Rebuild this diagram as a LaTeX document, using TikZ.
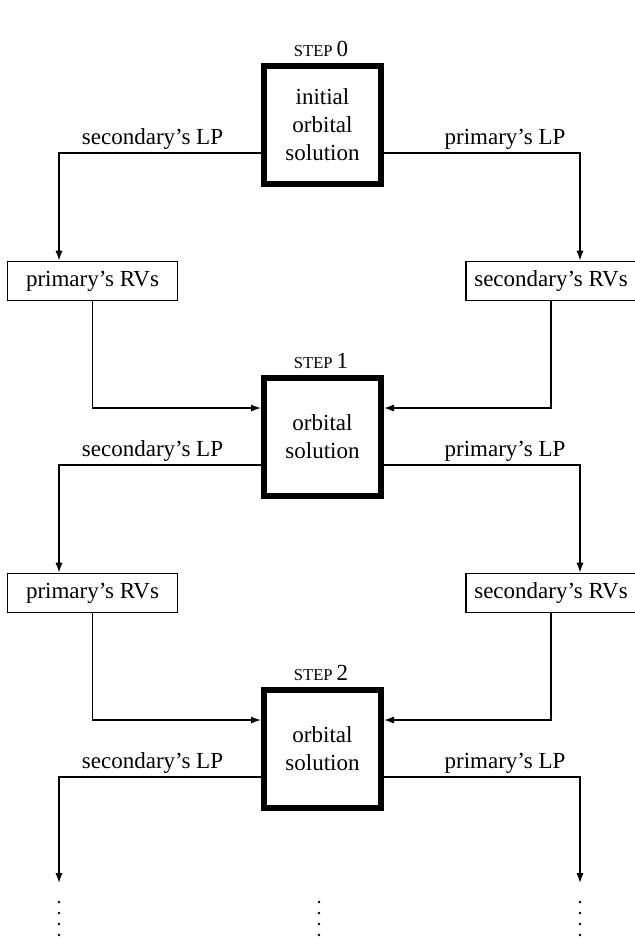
\documentclass[tikz,border=0pt]{standalone}
\usepackage{fontspec}
\setmainfont{Liberation Serif}
\usetikzlibrary{arrows.meta}
\newcommand\stepname[1]{{\fontsize{8.3}{10}\selectfont STEP}\,#1}
\begin{document}
\begin{tikzpicture}[x=0.5pt,y=-0.5pt,
 font=\fontsize{11.5}{14}\selectfont,
 stepbox/.style={draw, line width=3pt, minimum width=58.5pt, minimum height=59pt, inner sep=0pt, align=center},
 rvbox/.style={draw, line width=0.8pt, minimum width=85pt, minimum height=19.5pt, inner sep=0pt},
 conn/.style={line width=0.7pt},
 arr/.style={conn, -{Latex[length=5pt,width=3.6pt]}},
 lab/.style={anchor=base, inner sep=0pt},
 dotmark/.style={fill=black}]
\useasboundingbox (0,0) rectangle (634,938);

% step boxes
\node[stepbox] (s0) at (322.5,125) {initial\\orbital\\solution};
\node[stepbox] (s1) at (322.5,437) {orbital\\solution};
\node[stepbox] (s2) at (322.5,749) {orbital\\solution};
\node[lab] (t0) at (321,56) {\stepname{0}};
\node[lab] (t1) at (321,368) {\stepname{1}};
\node[lab] (t2) at (321,680) {\stepname{2}};

% RV boxes
\node[rvbox] (p0) at (92.5,281) {primary's RVs};
\node[rvbox] (q0) at (551,281) {secondary's RVs};
\node[rvbox] (p1) at (92.5,593) {primary's RVs};
\node[rvbox] (q1) at (551,593) {secondary's RVs};

% LP labels
\node[lab] (ls0) at (152.5,144) {secondary's LP};
\node[lab] (lp0) at (505,144) {primary's LP};
\node[lab] (ls1) at (152.5,456) {secondary's LP};
\node[lab] (lp1) at (505,456) {primary's LP};
\node[lab] (ls2) at (152.5,768) {secondary's LP};
\node[lab] (lp2) at (505,768) {primary's LP};

% bend coordinates
\coordinate (lb0) at (59,153);  \coordinate (rb0) at (580,153);
\coordinate (lb1) at (59,465);  \coordinate (rb1) at (580,465);
\coordinate (lb2) at (59,777);  \coordinate (rb2) at (580,777);
\coordinate (li1) at (92.5,408); \coordinate (ri1) at (551,408);
\coordinate (li2) at (92.5,720); \coordinate (ri2) at (551,720);
\coordinate (e0) at (59,883);   \coordinate (e1) at (580,883);

% outputs of step boxes
\draw[arr] (s0.west |- lb0) -- (lb0) -- (p0.north -| lb0);
\draw[arr] (s0.east |- rb0) -- (rb0) -- (q0.north -| rb0);
\draw[arr] (s1.west |- lb1) -- (lb1) -- (p1.north -| lb1);
\draw[arr] (s1.east |- rb1) -- (rb1) -- (q1.north -| rb1);
\draw[arr] (s2.west |- lb2) -- (lb2) -- (e0);
\draw[arr] (s2.east |- rb2) -- (rb2) -- (e1);

% inputs to step boxes
\draw[arr] (p0.south) -- (li1) -- (s1.west |- li1);
\draw[arr] (q0.south) -- (ri1) -- (s1.east |- ri1);
\draw[arr] (p1.south) -- (li2) -- (s2.west |- li2);
\draw[arr] (q1.south) -- (ri2) -- (s2.east |- ri2);

% continuation dots
\foreach \xx in {59,319,580}
  \foreach \yy in {902,913,924,935}
    \fill[dotmark] (\xx,\yy) circle (0.65pt);
\end{tikzpicture}
\end{document}
